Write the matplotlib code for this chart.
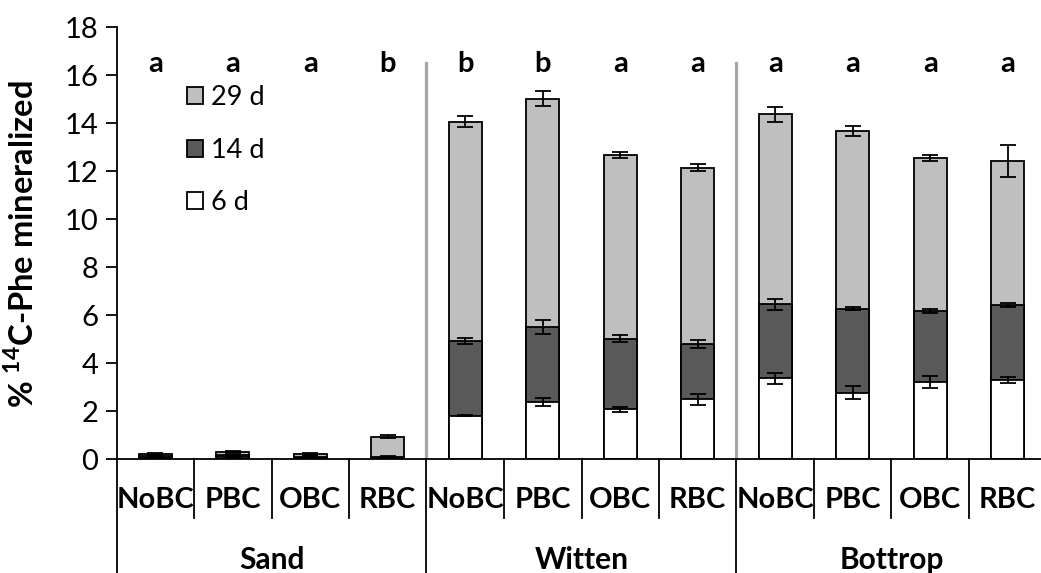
import matplotlib
matplotlib.use("Agg")
import matplotlib.pyplot as plt
from matplotlib.patches import Patch
import numpy as np

plt.rcParams['font.family'] = ['Lato', 'DejaVu Sans']
plt.rcParams['mathtext.fontset'] = 'custom'
plt.rcParams['mathtext.rm'] = 'Lato'
plt.rcParams['mathtext.bf'] = 'Lato:bold'

groups = ["Sand", "Witten", "Bottrop"]
treatments = ["NoBC", "PBC", "OBC", "RBC"]
letters = ["a", "a", "a", "b", "b", "b", "a", "a", "a", "a", "a", "a"]

# cumulative % mineralized at each time
d6 = [0.05, 0.08, 0.05, 0.05, 1.81, 2.38, 2.07, 2.49, 3.36, 2.77, 3.21, 3.29]
d14 = [0.12, 0.15, 0.10, 0.10, 4.92, 5.52, 5.02, 4.81, 6.45, 6.27, 6.17, 6.42]
d29 = [0.22, 0.30, 0.20, 0.93, 14.07, 15.03, 12.68, 12.14, 14.37, 13.68, 12.55, 12.44]
e6 = [0.02, 0.02, 0.02, 0.02, 0.03, 0.15, 0.10, 0.23, 0.22, 0.26, 0.24, 0.14]
e14 = [0.03, 0.02, 0.02, 0.03, 0.14, 0.29, 0.15, 0.17, 0.24, 0.07, 0.08, 0.09]
e29 = [0.05, 0.03, 0.03, 0.05, 0.23, 0.31, 0.12, 0.15, 0.31, 0.22, 0.12, 0.67]

W, H = 1041, 573
fig = plt.figure(figsize=(W / 100, H / 100), dpi=100)
ax = fig.add_axes([116.5 / W, (H - 459) / H, (W - 116.5) / W, (459 - 27.3) / H])

x = np.arange(len(d6))
bw = 0.42
ekw = dict(fmt='none', ecolor='black', elinewidth=1.3, capsize=5.5, capthick=1.3, zorder=4)
ax.bar(x, d29, bw, color='#BFBFBF', edgecolor='black', linewidth=1.3, zorder=2, label='29 d')
ax.bar(x, d14, bw, color='#595959', edgecolor='black', linewidth=1.3, zorder=2, label='14 d')
ax.bar(x, d6, bw, color='white', edgecolor='black', linewidth=1.3, zorder=2, label='6 d')
ax.errorbar(x, d29, yerr=e29, **ekw)
ax.errorbar(x, d14, yerr=e14, **ekw)
ax.errorbar(x, d6, yerr=e6, **ekw)

ax.set_ylim(0, 18)
ax.set_xlim(-0.5, -0.5 + (W - 116.5) / 77.5)
ax.set_yticks(np.arange(0, 19, 2))
ax.tick_params(axis='y', labelsize=21, length=8, width=1.3, direction='out', pad=5)
ax.set_xticks([])
for s in ['top', 'right']:
    ax.spines[s].set_visible(False)
ax.spines['left'].set_linewidth(1.3)
ax.spines['bottom'].set_linewidth(1.3)

# grey group separators in plot
for gx in [3.5, 7.5]:
    ax.plot([gx, gx], [0, 16.5], color='#A6A6A6', lw=2.3, zorder=1)

# significance letters
for xi, l in zip(x, letters):
    ax.text(xi, 16.45, l, ha='center', va='center', fontsize=21, fontweight='bold')

# category axis
tr = ax.get_xaxis_transform()
for i in range(1, 12):
    if i % 4 == 0:
        ax.plot([i - 0.5, i - 0.5], [0, -0.27], color='black', lw=1.3, transform=tr, clip_on=False)
    else:
        ax.plot([i - 0.5, i - 0.5], [0, -0.137], color='black', lw=1.3, transform=tr, clip_on=False)
ax.plot([-0.5, -0.5], [0, -0.27], color='black', lw=1.3, transform=tr, clip_on=False)
for i in range(12):
    ax.text(i, -0.095, treatments[i % 4], ha='center', va='center', fontsize=21,
            fontweight='bold', transform=tr)
for g, name in enumerate(groups):
    ax.text(4 * g + 1.5, -0.234, name, ha='center', va='center', fontsize=21.5,
            fontweight='bold', transform=tr)

ax.set_ylabel(r'% $^{\mathbf{14}}$C-Phe mineralized', fontsize=23.5, fontweight='bold')
ax.yaxis.set_label_coords(-0.084, 0.498)

handles = [Patch(facecolor='#BFBFBF', edgecolor='black', linewidth=1.3, label='29 d'),
           Patch(facecolor='#595959', edgecolor='black', linewidth=1.3, label='14 d'),
           Patch(facecolor='white', edgecolor='black', linewidth=1.3, label='6 d')]
ax.legend(handles=handles, loc='upper left', bbox_to_anchor=(0.076, 0.866), frameon=False,
          fontsize=19.5, handlelength=0.6, handleheight=0.6, handletextpad=0.3,
          labelspacing=1.02, borderaxespad=0, borderpad=0)

fig.savefig('out.png', dpi=100)
